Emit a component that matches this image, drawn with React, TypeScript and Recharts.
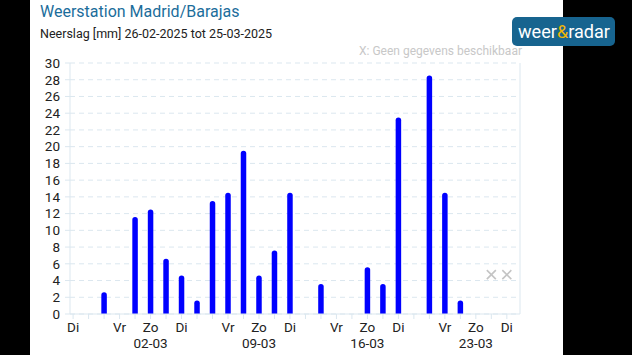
import React from 'react';
import { ComposedChart, Bar, Scatter, XAxis, YAxis, CartesianGrid } from 'recharts';

const dates = [
  '25-02', '26-02', '27-02', '28-02', '01-03', '02-03', '03-03', '04-03', '05-03', '06-03',
  '07-03', '08-03', '09-03', '10-03', '11-03', '12-03', '13-03', '14-03', '15-03', '16-03',
  '17-03', '18-03', '19-03', '20-03', '21-03', '22-03', '23-03', '24-03', '25-03',
];
const weekdays = [
  'Di', 'Wo', 'Do', 'Vr', 'Za', 'Zo', 'Ma', 'Di', 'Wo', 'Do',
  'Vr', 'Za', 'Zo', 'Ma', 'Di', 'Wo', 'Do', 'Vr', 'Za', 'Zo',
  'Ma', 'Di', 'Wo', 'Do', 'Vr', 'Za', 'Zo', 'Ma', 'Di',
];
const shownDays = ['Di', 'Vr', 'Zo'];
const rain: (number | null)[] = [
  0, 0, 2.6, 0, 11.6, 12.5, 6.6, 4.6, 1.6, 13.5,
  14.5, 19.5, 4.6, 7.6, 14.5, 0, 3.6, 0, 0, 5.6,
  3.6, 23.5, 0, 28.5, 14.5, 1.6, 0, null, null,
];
const missingDays = ['24-03', '25-03'];
const missingMarkerLevel = 4.7;
const yTicks = [0, 2, 4, 6, 8, 10, 12, 14, 16, 18, 20, 22, 24, 26, 28, 30];

const chartData = dates.map((d, i) => ({ i, date: d, rain: rain[i] && rain[i]! > 0 ? rain[i] : null }));
const missingData = missingDays.map((d) => ({ i: dates.indexOf(d), y: missingMarkerLevel }));
const xTicks = dates.map((_, i) => i);

const FONT = 'Roboto, sans-serif';
const AXIS = '#dbe7ef';

const DayTick = (props: any) => {
  const { x, y, payload } = props;
  const idx = payload.value as number;
  const day = weekdays[idx];
  if (!shownDays.includes(day)) return <g />;
  return (
    <g>
      <text x={x} y={y} dy={11} textAnchor="middle" fill="#222" fontSize={13.5} fontFamily={FONT}>
        {day}
      </text>
      {day === 'Zo' && (
        <text x={x} y={y} dy={27} textAnchor="middle" fill="#222" fontSize={13.5} fontFamily={FONT}>
          {dates[idx]}
        </text>
      )}
    </g>
  );
};

const XMark = (props: any) => {
  const { cx, cy } = props;
  const s = 4.5;
  return (
    <g stroke="#c4c4c4" strokeWidth={1.6}>
      <line x1={cx - s} y1={cy - s} x2={cx + s} y2={cy + s} />
      <line x1={cx - s} y1={cy + s} x2={cx + s} y2={cy - s} />
    </g>
  );
};

export default function App() {
  return (
    <div style={{ position: 'fixed', left: 0, top: 0, width: 632, height: 355, background: '#000', overflow: 'hidden' }}>
      <div style={{ position: 'absolute', left: 30, top: 0, width: 533, height: 355, background: '#fff' }} />
      <svg width={632} height={355} style={{ position: 'absolute', left: 0, top: 0 }}>
        <text x={40} y={17} fontSize={16} fill="#1b6d9b" fontFamily={FONT}>Weerstation Madrid/Barajas</text>
        <text x={40} y={38} fontSize={12.5} fill="#222" fontFamily={FONT}>Neerslag [mm] 26-02-2025 tot 25-03-2025</text>
        <text x={359} y={55} fontSize={12} fill="#c8c8c8" fontFamily={FONT}>X: Geen gegevens beschikbaar</text>
        <rect x={512} y={17} width={103} height={29} rx={5} fill="#17648f" />
        <text x={518} y={38} fontSize={18} fill="#fff" fontFamily={FONT} textLength={92} lengthAdjust="spacingAndGlyphs">
          weer<tspan fill="#f2b705">&amp;</tspan>radar
        </text>
      </svg>
      <div style={{ position: 'absolute', left: 0, top: 0 }}>
        <ComposedChart width={632} height={355} data={chartData} margin={{ top: 63, right: 72, bottom: 6, left: 30 }}>
          <CartesianGrid yAxisId="l" vertical={false} stroke={AXIS} strokeDasharray="5 4" />
          <XAxis
            dataKey="i"
            type="number"
            domain={[-0.2, 28.85]}
            ticks={xTicks}
            interval={0}
            height={35}
            tick={<DayTick />}
            tickSize={5}
            stroke={AXIS}
            tickLine={{ stroke: AXIS }}
            axisLine={{ stroke: AXIS }}
            allowDataOverflow
          />
          <YAxis
            yAxisId="l"
            orientation="left"
            width={40}
            domain={[0, 30]}
            ticks={yTicks}
            interval={0}
            tickSize={5}
            tickMargin={5}
            axisLine={{ stroke: AXIS }}
            tickLine={{ stroke: AXIS }}
            tick={{ fill: '#222', fontSize: 13.5, fontFamily: FONT }}
          />
          <YAxis
            yAxisId="r"
            orientation="right"
            width={40}
            domain={[0, 30]}
            ticks={yTicks}
            interval={0}
            tickSize={5}
            tickMargin={5}
            axisLine={{ stroke: AXIS }}
            tickLine={{ stroke: AXIS }}
            tick={{ fill: '#222', fontSize: 13.5, fontFamily: FONT, textAnchor: 'start' }}
          />
          <Bar yAxisId="l" dataKey="rain" fill="#0000ff" barSize={5.5} radius={[2.75, 2.75, 0, 0]} isAnimationActive={false} />
          <Scatter yAxisId="l" data={missingData} dataKey="y" shape={<XMark />} isAnimationActive={false} />
        </ComposedChart>
      </div>
    </div>
  );
}
